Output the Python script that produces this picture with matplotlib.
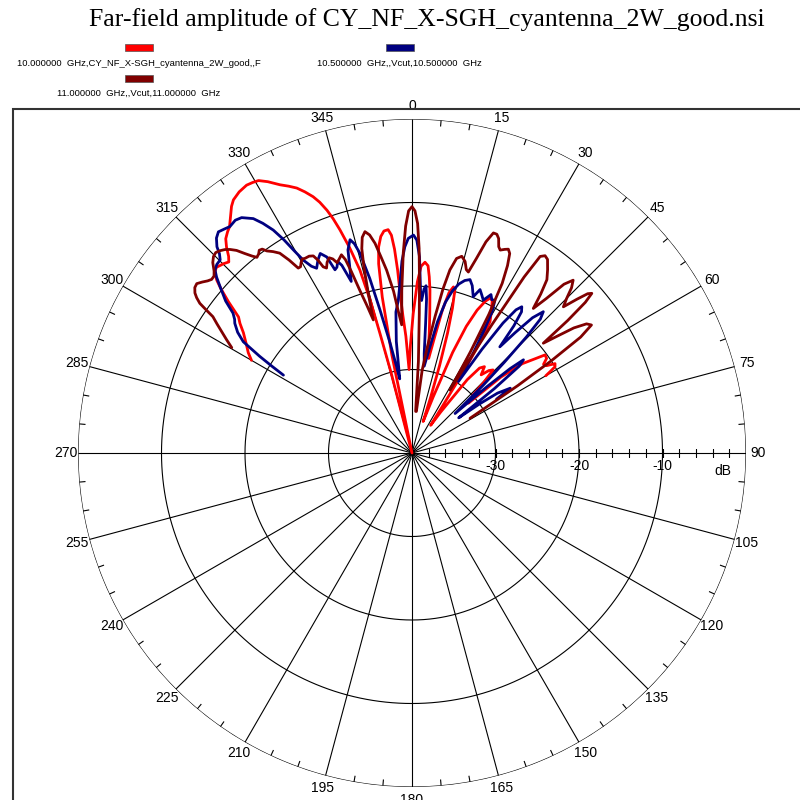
import numpy as np
import matplotlib
matplotlib.use("Agg")
import matplotlib.pyplot as plt
from matplotlib.patches import Rectangle
from matplotlib.transforms import ScaledTranslation

# ---------------- data (angle in degrees, amplitude in dB) ----------------
red_theta = [-60, -58.5, -56.8, -54.5, -53, -51.9, -50.5, -49.3, -48.5, -47.6, -46.5, -45.5,
             -44.9, -43.8, -43.0, -42, -41, -39.8, -38.9, -37.5, -36.2, -35.2, -33.5, -31.7,
             -30.5, -29.4, -28, -26.2, -24.8, -23.5, -22.3, -21.1, -20.2, -19.3, -18.6, -17.9,
             -16.9, -15.9, -15.3, -15.0, -14.6, -14.0,
             -12.5, -11.6, -10.8, -10, -9.2, -8.2, -7.2, -6.1, -5.4, -4.9, -4.5, -4.2, -3.8, -3.0,
             -2.0, -0.8, 0.5, 1.8, 2.8, 3.9, 4.9, 5.6, 6.3, 7.2, 8.2, 9.0, 10.0,
             11.0, 12.0, 13.0, 14.0, 14.8, 15.6, 16.5, 17.5, 18.5, 19.5,
             20.7, 22, 23.2, 24.5, 25.8, 26.8, 27.8, 28.8, 29.8, 30.7, 31.5, 32.3, 33, 34,
             35, 37, 38.5, 40, 41.5, 43, 44.3, 45.5, 46.5, 47.5,
             48.5, 49.5, 51, 52.5, 53.6, 54.9, 56, 57, 58, 58.9, 59.5, 60]
red_db = [-17.8, -17.0, -16.3, -15.2, -14.2, -13.6, -11.5, -9.8, -8.8, -8.0, -7.7, -7.9,
          -8.0, -8.3, -7.8, -6.8, -6.0, -5.5, -5.2, -4.3, -3.4, -2.9, -2.5, -2.3,
          -2.4, -2.55, -3.2, -4.2, -4.8, -5.4, -6.2, -7.1, -8.0, -9.2, -10.4, -11.9,
          -14.3, -17.2, -21, -25.2, -30, -40,
          -40, -28, -21, -17, -15, -13.8, -13.2, -13.1, -13.8, -15.5, -18, -21.2, -23.5, -26,
          -30, -27, -23.3, -19.5, -17.6, -17.1, -17.5, -18.8, -20.4, -23, -25.5, -27.5, -28.5,
          -26, -22.5, -20.3, -19.5, -20, -22, -25, -29, -33, -36,
          -32.8, -27, -23.5, -21.2, -19.8, -19.2, -19.4, -20.2, -21, -21.7, -24, -28, -33, -36,
          -34, -29, -27, -26.5, -27.5, -26.5, -26.1, -28, -30, -29,
          -31, -26, -23, -21.5, -20.2, -20.3, -21, -20.8, -19.8, -20, -20.8, -21.5]

blue_theta = [-58.8, -58.2, -57.6, -56.6, -55.3, -53.8, -53, -52, -50.8, -49.1, -48, -47.1,
              -46, -44.8, -44, -43.4, -42.3, -41.2, -40, -38.8, -37.2, -35.9, -34.1, -33,
              -31.9, -31, -30.3, -29.4, -28.3, -27.3, -26, -24.7, -23.5, -22.8, -22, -21.2,
              -20.5, -19.5, -18.5, -17.5, -16.2, -15.4, -14.6, -13.6, -12.6, -11.3, -10.1, -9.4,
              -8, -6.5, -5.1, -4, -3, -2, -1, 0.4, 1.3, 2.2, 3.0, 3.6, 4.2, 4.8, 5.4, 6.0,
              7, 8, 9.6, 11, 12.5, 14, 15.5, 17, 18.5, 19.8, 21.4, 22.6, 23.8, 25, 26.5, 27.5,
              28.5, 29.5, 30.5, 31.5, 33, 34, 35, 36, 36.9, 37.8, 38.7, 39.6, 40.6, 41.7,
              42.9, 43.8, 44.6, 45.5, 46.4, 47.5, 48.5, 49.3, 50.1, 51, 52, 53, 54, 55, 56.6, 57.5]
blue_db = [-22.0, -20.2, -18.4, -15.8, -14.6, -13.7, -13.4, -12.8, -11.2, -9.6, -8.5, -7.8,
           -7.5, -7.4, -6.8, -6.0, -5.2, -4.8, -5.0, -5.2, -5.0, -5.2, -6.1, -7.2,
           -8.55, -10.2, -11.8, -13.5, -14.6, -15.1, -14.3, -13.7, -14.4, -16.2, -16.0, -15.4,
           -16, -18.2, -16.5, -14.5, -13.4, -14, -15.3, -18.5, -22.5, -26.5, -29.5, -31,
           -26.5, -23, -21.6, -19.5, -17, -15.3, -14.3, -13.9, -14.5, -16.5, -20.5, -21.7, -20.3, -19.9, -21.5, -24.4,
           -28, -29.5, -27.1, -24, -21.5, -20, -19, -18.4, -18.1, -18.7, -19.9, -18.8, -19.3, -19.8, -18.8, -19.3,
           -19.2, -20.5, -23, -26, -29.8, -25, -21, -18.8, -18.1, -18.6, -20.5, -23.5, -21, -18.3,
           -16.9, -17.8, -20.5, -24.5, -28.2, -33, -28, -24.5, -22.6, -23.5, -27.5, -33, -30, -27.5, -25.9, -28]

dred_theta = [-59.7, -58.6, -57.5, -56.5, -55.6, -55.2, -54.8, -54.2, -53.6, -52.7, -51.8, -50.8,
              -49.9, -49.1, -48.2, -47.4, -46.3, -45.3, -44.4, -43.5, -42.6, -41.8, -40.9, -40,
              -39.1, -38.4, -37.6, -37, -36.3, -35.7, -34.6, -33.5, -32.5, -31.6, -30.9, -30.2,
              -29.5, -28.8, -27.6, -26.6, -26, -25.5, -24.8, -24, -23, -22.2, -21.5, -20.6,
              -19.6, -19, -18.5, -17.8, -17, -16.2, -15.4, -14.5, -13.8, -13, -12.0, -11,
              -10, -9, -7.9, -6.5, -5.5, -4.6, -3.6, -2.5, -1.6, -0.8, 0, 0.7, 1.4, 2.0, 2.5,
              3.0, 4, 5, 6, 7, 8.3, 9.6, 10.7, 11.7, 12.9, 14.2, 15.5, 16.5, 17.3, 18.3, 19.3,
              20.3, 21.2, 22, 22.8, 23.5, 24.5, 25.3, 26.1, 27, 28, 29, 30, 31.1, 31.9, 32.5,
              33.1, 34, 35, 36.5, 37.9, 39, 40, 41, 42, 43, 44, 45, 46, 47, 47.8, 48.4, 49,
              49.6, 50.1, 51, 52.3, 53.5, 54.5, 55.5, 56.5, 57.5, 59.1]
dred_db = [-15.0, -14.0, -13.0, -12.0, -11.1, -10, -8.9, -8.2, -7.7, -7.3, -7.2, -7.6,
           -8.0, -8.25, -8.2, -7.8, -7.0, -6.55, -6.4, -6.6, -6.9, -7.3, -7.9, -8.8,
           -9.6, -10.1, -9.9, -9.6, -9.7, -10.2, -10.7, -11.3, -12.6, -14.0, -14.0, -13.6,
           -13.3, -13.4, -13.4, -13.6, -14.3, -15.3, -15.6, -15, -14.6, -14.9, -15.5, -15.2,
           -14.8, -15.5, -17, -19.5, -21.5, -23.4, -20.5, -17, -14.8, -13.5, -12.9, -13.4,
           -14.5, -16.2, -17.9, -20.5, -23, -24.6, -20.5, -16, -12.8, -11.0, -10.5, -11.0, -12.5, -15.5, -19.5,
           -23.3, -29, -35, -35, -30, -27, -23.4, -20, -17.6, -16.1, -15.7, -16.2, -17.1, -17.3, -15.5, -13.2,
           -11.9, -11.9, -12.3, -13.2, -13.5, -13.2, -13.0, -13.4, -14.8, -17, -21, -26, -31.2, -22, -15,
           -11.9, -11.5, -11.7, -12.7, -13.7, -15.5, -17.4, -15.5, -12.8, -11.7, -12.5, -13.8, -14.8, -13.0, -11.6, -11.2, -12.5,
           -15.5, -19.5, -18, -15.5, -14.0, -13.6, -15.5, -20, -25, -31.9]

series_labels = ["10.000000  GHz,CY_NF_X-SGH_cyantenna_2W_good,,F",
                 "10.500000  GHz,,Vcut,10.500000  GHz",
                 "11.000000  GHz,,Vcut,11.000000  GHz"]
series_colors = ["#ff0000", "#000080", "#800000"]

angle_ticks = list(range(0, 360, 15))
ring_values = [-30, -20, -10, 0]
r_min, r_max = -40, 0
title = "Far-field amplitude of CY_NF_X-SGH_cyantenna_2W_good.nsi"

# ---------------- figure ----------------
W = H = 800
fig = plt.figure(figsize=(8, 8), dpi=100)
cx, cy, R = 412, 453, 334
ax = fig.add_axes([(cx - R) / W, 1 - (cy + R) / H, 2 * R / W, 2 * R / H], projection="polar")
ax.set_theta_zero_location("N")
ax.set_theta_direction(-1)
ax.set_ylim(r_min, r_max)
ax.grid(False)
ax.set_xticks([])
ax.set_yticks([])
ax.spines["polar"].set_visible(False)
ax.patch.set_alpha(0)

grid_kw = dict(color="black", lw=0.8, solid_capstyle="butt", zorder=1)
full = np.linspace(0, 2 * np.pi, 721)
for rv in ring_values:
    ax.plot(full, np.full_like(full, rv), **grid_kw)
for a in angle_ticks:
    t = np.deg2rad(a)
    ax.plot([t, t], [r_min, r_max], **grid_kw)
# small ticks on outer ring every 5 deg
for a in range(0, 360, 5):
    if a % 15:
        t = np.deg2rad(a)
        ax.plot([t, t], [-0.75, 0], **grid_kw)
# radial ticks along 90 deg axis
rt = np.arange(-38, 0, 2)
ax.plot(np.full(rt.shape, np.pi / 2), rt, ls="none", marker="|", ms=6, mew=0.8, color="black", zorder=1)

# angle labels
for a in angle_ticks:
    ax.text(np.deg2rad(a), 12.5 / (R / 40), str(a), ha="center", va="center",
            fontsize=10, family="Liberation Sans", clip_on=False)

off = ScaledTranslation(0, -13 / 100, fig.dpi_scale_trans)
for rv in [-30, -20, -10]:
    ax.text(np.pi / 2, rv, str(rv), ha="center", va="center", fontsize=10,
            family="Liberation Sans", transform=ax.transData + off)
off2 = ScaledTranslation(0, -18 / 100, fig.dpi_scale_trans)
ax.text(np.pi / 2, -2.8, "dB", ha="center", va="center", fontsize=10,
        family="Liberation Sans", transform=ax.transData + off2)

# curves
for th, db, c in [(red_theta, red_db, series_colors[0]),
                  (blue_theta, blue_db, series_colors[1]),
                  (dred_theta, dred_db, series_colors[2])]:
    ax.plot(np.deg2rad(th), np.clip(db, r_min, r_max), color=c, lw=2.0, zorder=3,
            solid_joinstyle="round", solid_capstyle="round")

# frame box
fig.add_artist(Rectangle((13 / W, -0.2), 1.5, (H - 108.5) / H + 0.2, transform=fig.transFigure,
                         fill=False, lw=1.5, ec="#333333"))

# title
fig.text(427 / W, 1 - 20 / H, title, ha="center", va="center", fontsize=18.5,
         family="Liberation Serif")

# legend
leg = [(139, 47.5, 63, 0), (399.5, 47.5, 63, 1), (139, 78.5, 93.5, 2)]
for px, py, ty, i in leg:
    fig.add_artist(Rectangle(((px - 14) / W, 1 - (py + 3.5) / H), 28 / W, 7 / H,
                             transform=fig.transFigure, fc=series_colors[i], ec="#555555", lw=0.5))
    fig.text(px / W, 1 - ty / H, series_labels[i], ha="center", va="center", fontsize=6.8,
             family="Liberation Sans")

fig.savefig("out.png", dpi=100)
